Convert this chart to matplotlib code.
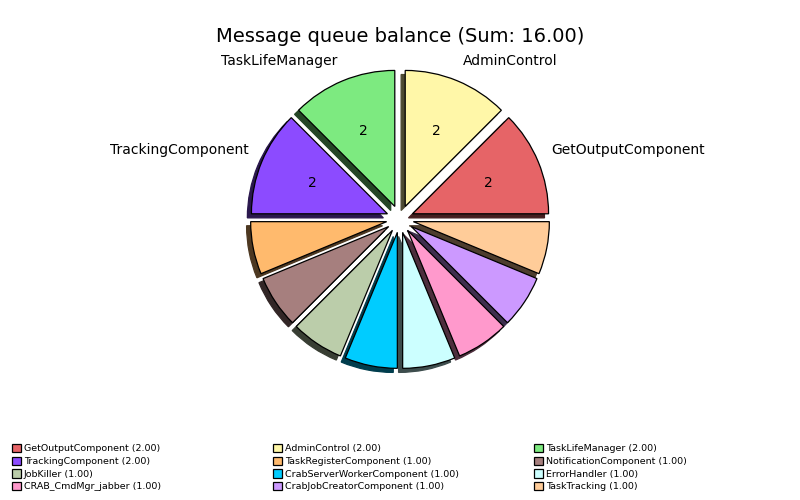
import matplotlib
matplotlib.use("Agg")
import matplotlib.pyplot as plt
from matplotlib.patches import Wedge
from matplotlib.colors import to_rgb

# Data (counter-clockwise order starting at 3 o'clock)
components = ["GetOutputComponent", "AdminControl", "TaskLifeManager", "TrackingComponent",
              "TaskRegisterComponent", "NotificationComponent", "JobKiller",
              "CrabServerWorkerComponent", "ErrorHandler", "CRAB_CmdMgr_jabber",
              "CrabJobCreatorComponent", "TaskTracking"]
values = [2, 2, 2, 2, 1, 1, 1, 1, 1, 1, 1, 1]
colors = ["#E66467", "#FFF7A8", "#7DEA80", "#8C4BFF", "#FFBA6D", "#A67F7E",
          "#BBCDAA", "#00CCFF", "#CCFFFF", "#FF99CC", "#CC99FF", "#FFCC99"]

total = sum(values)
title = "Message queue balance (Sum: %.2f)" % total
pie_labels = [c if v >= 2 else "" for c, v in zip(components, values)]
legend_labels = ["%s (%.2f)" % (c, v) for c, v in zip(components, values)]

fig = plt.figure(figsize=(8, 5), dpi=100)
ax = fig.add_axes([0.2875, 0.222, 0.425, 0.68])

wedges, texts, autotexts = ax.pie(
    values, labels=pie_labels, colors=colors, explode=[0.1] * len(values),
    autopct=lambda p: ("%d" % round(p * total / 100.0)) if p * total / 100.0 >= 2 else "",
    startangle=0, counterclock=True,
    wedgeprops={"edgecolor": "black", "linewidth": 0.9, "zorder": 2},
    textprops={"fontsize": 10})
for t in texts:
    t.set_va("bottom")
for t in autotexts:
    t.set_zorder(4)

# drop shadows: darker copies of each wedge, shifted left/down
sh_dx, sh_dy = -0.03, -0.03
for w in wedges:
    cx, cy = w.center
    rgb = to_rgb(w.get_facecolor())
    dark = tuple(0.3 * c for c in rgb)
    ax.add_patch(Wedge((cx + sh_dx, cy + sh_dy), w.r, w.theta1, w.theta2,
                       facecolor=dark, edgecolor=dark, linewidth=0.9, zorder=1))

ax.set_xlim(-1.25, 1.25)
ax.set_ylim(-1.25, 1.25)
ax.set_aspect("equal")
ax.set_axis_off()

fig.text(0.5, 1 - 37 / 500, title, ha="center", va="center", fontsize=14)

# Legend laid out row-major in three equal-width columns
col_x = [12, 273, 534]
ncol = 3
for c in range(ncol):
    idx = list(range(c, len(values), ncol))
    fig.legend([wedges[i] for i in idx], [legend_labels[i] for i in idx],
               loc="upper left", bbox_to_anchor=(col_x[c] / 800, 1 - 444 / 500),
               frameon=False, fontsize=6.8, handlelength=0.95, handleheight=0.95,
               handletextpad=0.3, labelspacing=0.36, borderpad=0, borderaxespad=0)

fig.savefig("out.png", dpi=100)
